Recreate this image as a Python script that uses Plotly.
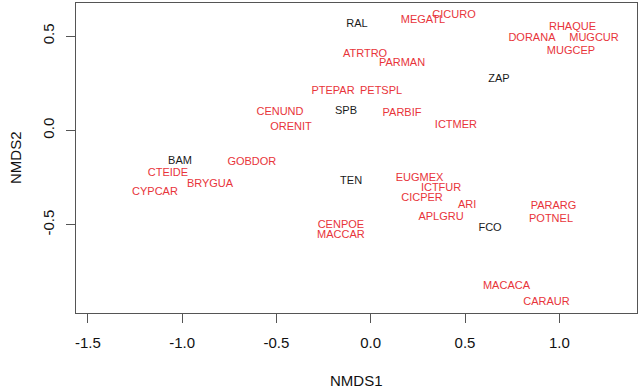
import plotly.graph_objects as go

# Sites (black labels)
site_names = ["RAL", "ZAP", "SPB", "BAM", "TEN", "FCO"]
site_x = [-0.073, 0.680, -0.131, -1.011, -0.104, 0.633]
site_y = [0.564, 0.272, 0.102, -0.161, -0.269, -0.520]

# Species (red labels)
sp_names = ["MEGATL", "CICURO", "RHAQUE", "DORANA", "MUGCUR", "MUGCEP",
            "ATRTRO", "PARMAN", "PTEPAR", "PETSPL", "PARBIF", "ICTMER",
            "CENUND", "ORENIT", "GOBDOR", "CTEIDE", "BRYGUA", "CYPCAR",
            "EUGMEX", "ICTFUR", "CICPER", "ARI", "APLGRU", "PARARG",
            "POTNEL", "CENPOE", "MACCAR", "MACACA", "CARAUR"]
sp_x = [0.277, 0.442, 1.070, 0.855, 1.184, 1.062,
        -0.030, 0.166, -0.200, 0.055, 0.166, 0.452,
        -0.481, -0.423, -0.630, -1.075, -0.852, -1.144,
        0.259, 0.373, 0.272, 0.511, 0.373, 0.969,
        0.956, -0.158, -0.158, 0.720, 0.932]
sp_y = [0.585, 0.612, 0.544, 0.488, 0.488, 0.417,
        0.405, 0.355, 0.208, 0.210, 0.093, 0.028,
        0.095, 0.016, -0.170, -0.228, -0.286, -0.329,
        -0.255, -0.308, -0.361, -0.396, -0.461, -0.401,
        -0.470, -0.502, -0.555, -0.824, -0.909]

x_ticks = [-1.5, -1.0, -0.5, 0.0, 0.5, 1.0]
x_tick_labels = ["-1.5", "-1.0", "-0.5", "0.0", "0.5", "1.0"]
y_ticks = [-0.5, 0.0, 0.5]
y_tick_labels = ["-0.5", "0.0", "0.5"]

FONT = "Liberation Sans, Arial, sans-serif"

fig = go.Figure()
fig.add_trace(go.Scatter(x=sp_x, y=sp_y, text=sp_names, mode="text",
                         textposition="middle center",
                         textfont=dict(family=FONT, size=11, color="#e8343a"),
                         hoverinfo="text", showlegend=False))
fig.add_trace(go.Scatter(x=site_x, y=site_y, text=site_names, mode="text",
                         textposition="middle center",
                         textfont=dict(family=FONT, size=11, color="#1a1a1a"),
                         hoverinfo="text", showlegend=False))

axis_common = dict(showgrid=False, zeroline=False, showline=True, mirror=True,
                   linecolor="#555555", linewidth=1, ticks="outside",
                   ticklen=9, tickcolor="#555555", tickwidth=1, automargin=False,
                   tickfont=dict(family=FONT, size=15, color="#111111"))

W, H = 642, 390
ML, MR, MT, MB = 76, 5, 3, 77
plot_h = H - MT - MB
plot_w = W - ML - MR

fig.update_layout(
    width=W, height=H,
    margin=dict(l=ML, r=MR, t=MT, b=MB),
    paper_bgcolor="white", plot_bgcolor="white",
    xaxis=dict(range=[-1.5626, 1.412], tickvals=x_ticks, ticktext=x_tick_labels,
               ticklabelstandoff=7, **axis_common),
    yaxis=dict(range=[-0.967, 0.675], tickvals=y_ticks, ticktext=y_tick_labels,
               tickangle=-90, ticklabelstandoff=6, **axis_common),
    annotations=[
        dict(text="NMDS1", x=0.5, xref="paper", y=(H - MB - 381) / plot_h,
             yref="paper", yanchor="middle", showarrow=False,
             font=dict(family=FONT, size=15, color="#111111")),
        dict(text="NMDS2", x=(15 - ML) / plot_w, xref="paper", xanchor="center",
             y=0.5, yref="paper", showarrow=False, textangle=-90,
             font=dict(family=FONT, size=15, color="#111111")),
    ],
)

fig.write_html("out.html", config={"displayModeBar": False},
               post_script="document.body.style.margin='0';document.body.style.padding='0';")
